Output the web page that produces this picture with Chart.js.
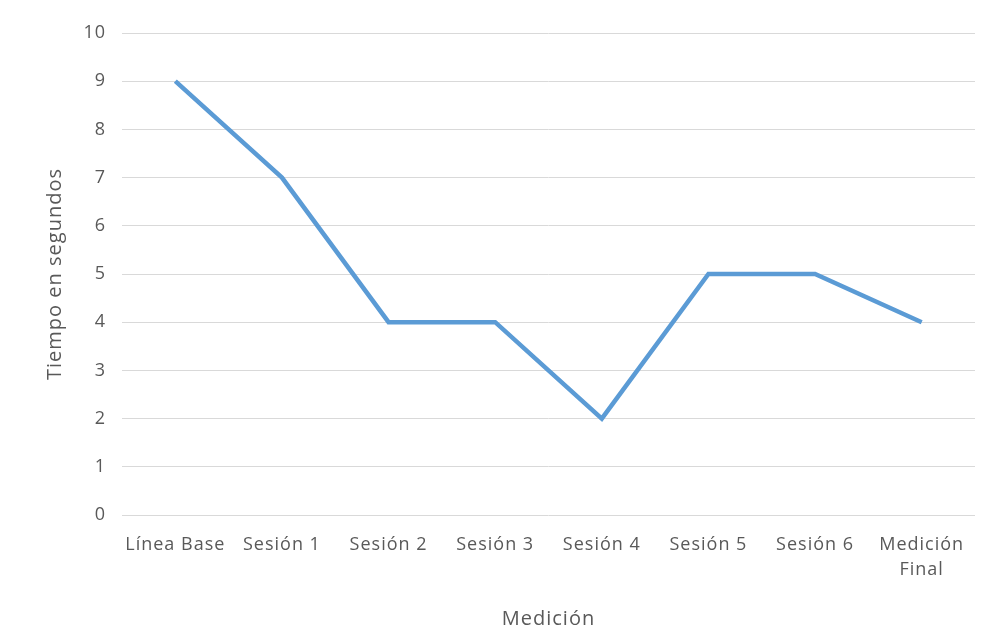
<!DOCTYPE html>
<html>
<head>
<meta charset="utf-8">
<script src="https://cdn.jsdelivr.net/npm/chart.js@4/dist/chart.umd.min.js"></script>
<style>
  html, body { margin: 0; padding: 0; background: #fff; }
  #wrap { width: 996px; height: 639px; }
</style>
</head>
<body>
<div id="wrap"><canvas id="chart" width="996" height="639"></canvas></div>
<script>
const categories = ['Línea Base', 'Sesión 1', 'Sesión 2', 'Sesión 3', 'Sesión 4', 'Sesión 5', 'Sesión 6', ['Medición', 'Final']];
const tiempo = [9, 7, 4, 4, 2, 5, 5, 4];
const yTicks = [0, 1, 2, 3, 4, 5, 6, 7, 8, 9, 10];

const textColor = '#595959';
const fontFamily = '"Open Sans", sans-serif';

// el texto del original es algo espaciado
const spacingPlugin = {
    id: 'spacing',
    beforeDraw(chart) {
        chart.ctx.letterSpacing = '1px';
    }
};

const ctx = document.getElementById('chart').getContext('2d');
new Chart(ctx, {
    type: 'line',
    data: {
        labels: categories,
        datasets: [{
            label: 'Tiempo',
            data: tiempo,
            borderColor: '#5B9BD5',
            borderWidth: 4.5,
            pointRadius: 0,
            tension: 0,
            fill: false
        }]
    },
    plugins: [spacingPlugin],
    options: {
        responsive: false,
        animation: false,
        layout: { padding: { top: 33, right: 21, bottom: 8, left: 0 } },
        plugins: {
            legend: { display: false },
            tooltip: { enabled: false }
        },
        scales: {
            x: {
                offset: true,
                grid: { display: false, drawTicks: false },
                border: { display: false },
                ticks: {
                    color: textColor,
                    font: { family: fontFamily, size: 18, lineHeight: 1.35 },
                    padding: 18,
                    maxRotation: 0,
                    autoSkip: false
                },
                title: {
                    display: true,
                    text: 'Medición',
                    color: textColor,
                    font: { family: fontFamily, size: 20 },
                    padding: { top: 20, bottom: 0 }
                },
                afterFit: (scale) => { scale.height = 116; }
            },
            y: {
                min: 0,
                max: 10,
                afterBuildTicks: (scale) => { scale.ticks = yTicks.map(v => ({ value: v })); },
                grid: { color: '#D9D9D9', lineWidth: 1, drawTicks: false },
                border: { display: false },
                ticks: {
                    color: textColor,
                    font: { family: fontFamily, size: 18 },
                    padding: 16
                },
                title: {
                    display: true,
                    text: 'Tiempo en segundos',
                    color: textColor,
                    font: { family: fontFamily, size: 20 },
                    padding: { top: 43, bottom: 0 }
                },
                afterFit: (scale) => { scale.width = 122; }
            }
        }
    }
});
</script>
</body>
</html>
